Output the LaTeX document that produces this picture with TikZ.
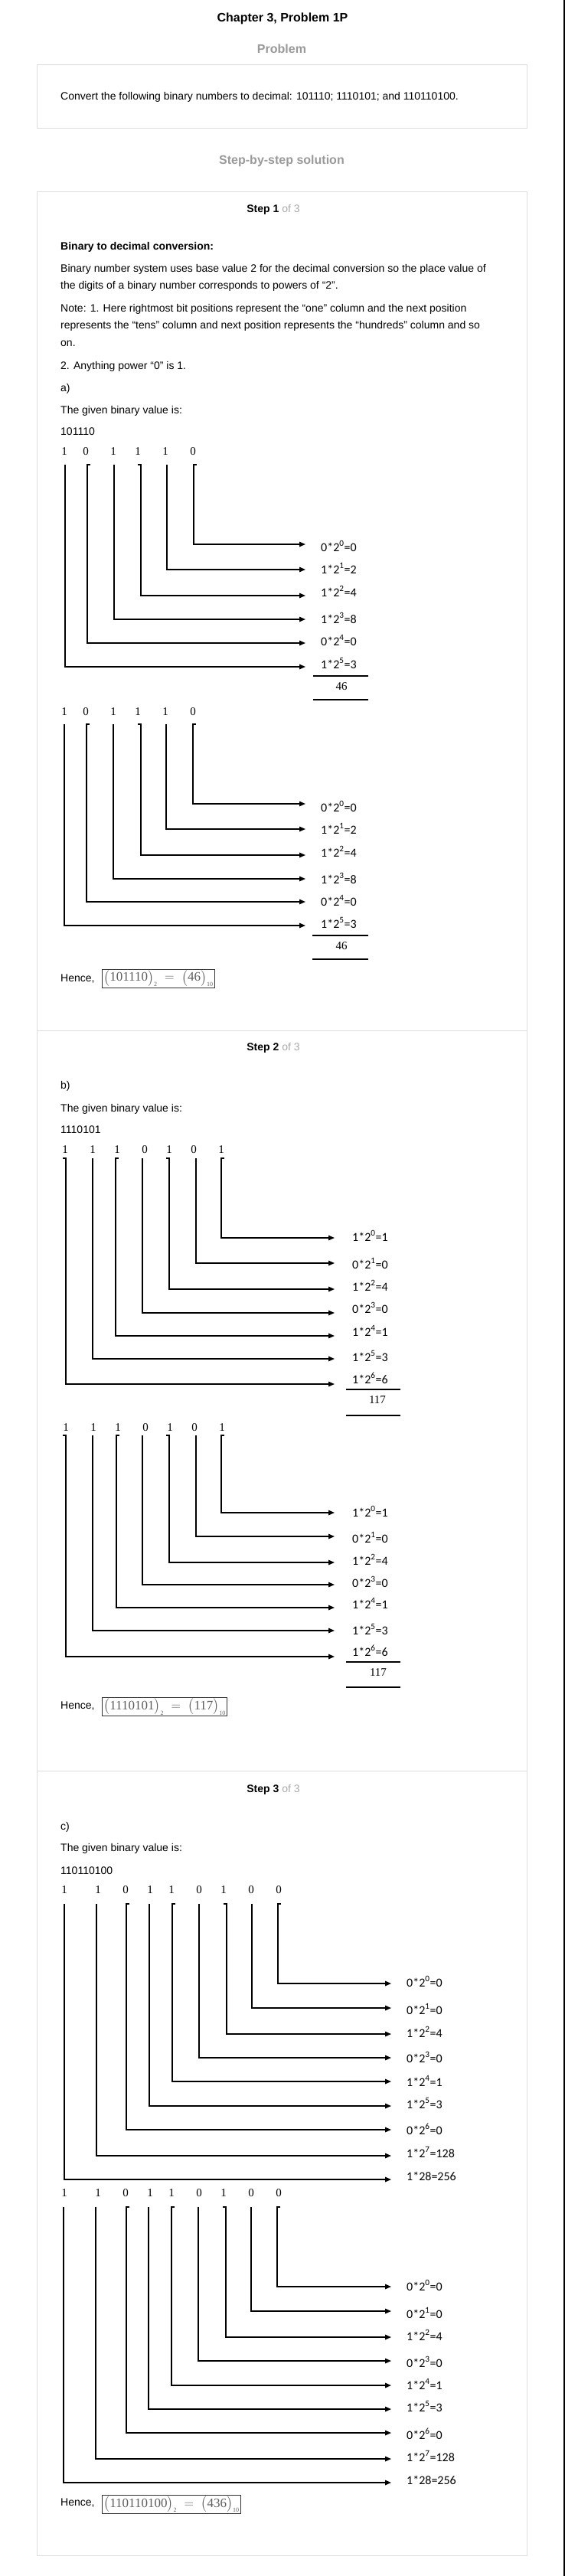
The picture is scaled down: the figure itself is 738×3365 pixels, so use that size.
\documentclass[tikz,border=0pt]{standalone}
\usepackage{fontspec}
\usepackage{amsmath}
\setmainfont{Liberation Sans}
\newfontfamily\calibrifont{Carlito}
\newfontfamily\timesfont{Liberation Serif}
\usetikzlibrary{arrows.meta}

\definecolor{framegray}{HTML}{DDDDDD}
\definecolor{titlegray}{HTML}{9A9A9A}
\definecolor{stepgray}{HTML}{AAAAAA}
\definecolor{answergray}{HTML}{5E5E5E}

\tikzset{
  heading/.style={anchor=base,inner sep=0pt,font=\bfseries\fontsize{16}{19}\selectfont},
  bodyline/.style={anchor=base west,inner sep=0pt,font=\fontsize{14}{17}\selectfont},
  stephead/.style={anchor=base,inner sep=0pt,font=\fontsize{14}{17}\selectfont},
  bitdigit/.style={anchor=base,inner sep=0pt,font=\timesfont\fontsize{15}{18}\selectfont},
  powerterm/.style={anchor=base west,inner sep=0pt,font=\calibrifont\fontsize{16}{19}\selectfont},
  bitwire/.style={line width=1.4pt,-{Triangle[length=8pt,width=6.5pt]}},
  sumrule/.style={line width=1.4pt},
  answerbox/.style={draw=black!80,line width=0.9pt,inner xsep=2pt,inner ysep=0pt,minimum height=24pt,
    text=answergray,font=\timesfont\fontsize{17}{20}\selectfont},
  frame/.style={draw=framegray,line width=1pt}
}

\begin{document}
\begin{tikzpicture}[x=1pt,y=-1pt]
\useasboundingbox (0,0) rectangle (738,3365);
\fill[white] (0,0) rectangle (738,3365);
\draw[line width=2pt] (737,0) -- (737,3365);

\node[heading] (chapter) at (369,28) {Chapter 3, Problem 1P};
\node[heading,text=titlegray] (problem) at (368,69) {Problem};
\draw[frame] (48,84) rectangle (688,167);
\node[bodyline] (question) at (79,130) {Convert the following binary numbers to decimal: 101110; 1110101; and 110110100.};
\node[heading,text=titlegray] (solution) at (368,214) {Step-by-step solution};

\draw[frame] (48,250) rectangle (688,3338);
\draw[frame] (48,1346) -- (688,1346);
\draw[frame] (48,2313) -- (688,2313);

\node[stephead] (step1) at (357,277) {\textbf{Step 1} \textcolor{stepgray}{of 3}};
\node[bodyline,font=\bfseries\fontsize{14}{17}\selectfont] (conv) at (79,326) {Binary to decimal conversion:};
\node[bodyline] (body1) at (79,355) {Binary number system uses base value 2 for the decimal conversion so the place value of};
\node[bodyline] (body2) at (79,377) {the digits of a binary number corresponds to powers of “2”.};
\node[bodyline] (note1) at (79,407) {Note: 1. Here rightmost bit positions represent the “one” column and the next position};
\node[bodyline] (note2) at (79,429) {represents the “tens” column and next position represents the “hundreds” column and so};
\node[bodyline] (note3) at (79,452) {on.};
\node[bodyline] (note4) at (79,482) {2. Anything power “0” is 1.};
\node[bodyline] (parta) at (79,511) {a)};
\node[bodyline] (givena) at (79,540) {The given binary value is:};
\node[bodyline] (valuea) at (79,568) {101110};

\foreach \d/\x [count=\i] in {1/84,0/112,1/148,1/180,1/216,0/252}
  \node[bitdigit] (a\i) at (\x,594) {\d};
\foreach \x/\y/\t [count=\i] in {85/871/0,114/840/4,149/809/0,184/778/-4,218/744/0,253/711/4}{
  \coordinate (as\i) at (\x,607);
  \coordinate (ae\i) at (399,\y);
  \draw[bitwire] ([xshift=\t pt]as\i) -- (as\i) |- (ae\i);
}
\foreach \p/\y [count=\i] in {0*2\textsuperscript{0}=0/720,1*2\textsuperscript{1}=2/749,1*2\textsuperscript{2}=4/779,
    1*2\textsuperscript{3}=8/814,0*2\textsuperscript{4}=0/843,1*2\textsuperscript{5}=3/873}
  \node[powerterm] (ap\i) at (419,\y) {\p};
\draw[sumrule] (409,883) -- (481,883);
\node[bitdigit] (atotal) at (446,901) {46};
\draw[sumrule] (409,914) -- (481,914);

\foreach \d/\x [count=\i] in {1/84,0/112,1/148,1/180,1/216,0/252}
  \node[bitdigit] (b\i) at (\x,934) {\d};
\foreach \x/\y/\t [count=\i] in {84/1209/0,113/1178/4,148/1148/0,184/1117/-4,217/1083/0,252/1050/4}{
  \coordinate (bs\i) at (\x,946);
  \coordinate (be\i) at (399,\y);
  \draw[bitwire] ([xshift=\t pt]bs\i) -- (bs\i) |- (be\i);
}
\foreach \p/\y [count=\i] in {0*2\textsuperscript{0}=0/1060,1*2\textsuperscript{1}=2/1089,1*2\textsuperscript{2}=4/1119,
    1*2\textsuperscript{3}=8/1154,0*2\textsuperscript{4}=0/1183,1*2\textsuperscript{5}=3/1212}
  \node[powerterm] (bp\i) at (419,\y) {\p};
\draw[sumrule] (408,1222) -- (481,1222);
\node[bitdigit] (btotal) at (446,1240) {46};
\draw[sumrule] (408,1253) -- (481,1253);

\node[bodyline] (hencea) at (79,1282) {Hence,};
\node[answerbox,anchor=west] (answera) at (133,1278)
  {$\bigl(\mbox{101110}\bigr)_{\mbox{\fontsize{8}{9}\selectfont 2}}\;=\;\bigl(\mbox{46}\bigr)_{\mbox{\fontsize{8}{9}\selectfont 10}}$};

\node[stephead] (step2) at (357,1372) {\textbf{Step 2} \textcolor{stepgray}{of 3}};
\node[bodyline] (partb) at (79,1422) {b)};
\node[bodyline] (givenb) at (79,1452) {The given binary value is:};
\node[bodyline] (valueb) at (79,1480) {1110101};

\foreach \d/\x [count=\i] in {1/85,1/121,1/153,0/189,1/221,0/253,1/289}
  \node[bitdigit] (c\i) at (\x,1506) {\d};
\foreach \x/\y/\t [count=\i] in {86/1808/-4,121/1775/0,151/1745/4,186/1715/0,221/1684/-4,256/1650/0,289/1617/4}{
  \coordinate (cs\i) at (\x,1513);
  \coordinate (ce\i) at (437,\y);
  \draw[bitwire] ([xshift=\t pt]cs\i) -- (cs\i) |- (ce\i);
}
\foreach \p/\y [count=\i] in {1*2\textsuperscript{0}=1/1621,0*2\textsuperscript{1}=0/1657,1*2\textsuperscript{2}=4/1686,
    0*2\textsuperscript{3}=0/1715,1*2\textsuperscript{4}=1/1745,1*2\textsuperscript{5}=3/1778,1*2\textsuperscript{6}=6/1807}
  \node[powerterm] (cp\i) at (460,\y) {\p};
\draw[sumrule] (452,1815) -- (523,1815);
\node[bitdigit] (ctotal) at (493,1833) {117};
\draw[sumrule] (452,1849) -- (523,1849);

\foreach \d/\x [count=\i] in {1/86,1/122,1/154,0/190,1/222,0/254,1/290}
  \node[bitdigit] (d\i) at (\x,1869) {\d};
\foreach \x/\y/\t [count=\i] in {86/2164/-4,121/2130/0,152/2100/4,186/2070/0,221/2041/-4,256/2007/0,289/1976/4}{
  \coordinate (ds\i) at (\x,1875);
  \coordinate (de\i) at (437,\y);
  \draw[bitwire] ([xshift=\t pt]ds\i) -- (ds\i) |- (de\i);
}
\foreach \p/\y [count=\i] in {1*2\textsuperscript{0}=1/1981,0*2\textsuperscript{1}=0/2015,1*2\textsuperscript{2}=4/2044,
    0*2\textsuperscript{3}=0/2073,1*2\textsuperscript{4}=1/2101,1*2\textsuperscript{5}=3/2135,1*2\textsuperscript{6}=6/2163}
  \node[powerterm] (dp\i) at (460,\y) {\p};
\draw[sumrule] (452,2171) -- (523,2171);
\node[bitdigit] (dtotal) at (494,2189) {117};
\draw[sumrule] (452,2204) -- (523,2204);

\node[bodyline] (henceb) at (79,2232) {Hence,};
\node[answerbox,anchor=west] (answerb) at (133,2229.5)
  {$\bigl(\mbox{1110101}\bigr)_{\mbox{\fontsize{8}{9}\selectfont 2}}\;=\;\bigl(\mbox{117}\bigr)_{\mbox{\fontsize{8}{9}\selectfont 10}}$};

\node[stephead] (step3) at (357,2341) {\textbf{Step 3} \textcolor{stepgray}{of 3}};
\node[bodyline] (partc) at (79,2390) {c)};
\node[bodyline] (givenc) at (79,2418) {The given binary value is:};
\node[bodyline] (valuec) at (79,2448) {110110100};

\foreach \d/\x [count=\i] in {1/84,1/128,0/164,1/196,1/224,0/260,1/292,0/328,0/364}
  \node[bitdigit] (e\i) at (\x,2473) {\d};
\foreach \x/\y/\t [count=\i] in {84/2847/0,126/2816/0,165/2782/4,195/2751/0,225/2719/4,260/2688/0,296/2657/-4,329/2623/0,363/2591/4}{
  \coordinate (es\i) at (\x,2487);
  \coordinate (ee\i) at (511,\y);
  \draw[bitwire] ([xshift=\t pt]es\i) -- (es\i) |- (ee\i);
}
\foreach \p/\y [count=\i] in {0*2\textsuperscript{0}=0/2595,0*2\textsuperscript{1}=0/2631,1*2\textsuperscript{2}=4/2661,
    0*2\textsuperscript{3}=0/2694,1*2\textsuperscript{4}=1/2725,1*2\textsuperscript{5}=3/2754,0*2\textsuperscript{6}=0/2788,
    1*2\textsuperscript{7}=128/2818,1*28=256/2848}
  \node[powerterm] (ep\i) at (531,\y) {\p};

\foreach \d/\x [count=\i] in {1/84,1/128,0/164,1/196,1/224,0/260,1/292,0/328,0/364}
  \node[bitdigit] (f\i) at (\x,2869) {\d};
\foreach \x/\y/\t [count=\i] in {83/3243/0,125/3212/0,165/3178/4,194/3147/0,224/3116/4,259/3084/0,295/3053/-4,328/3019/0,362/2987/4}{
  \coordinate (fs\i) at (\x,2883);
  \coordinate (fe\i) at (511,\y);
  \draw[bitwire] ([xshift=\t pt]fs\i) -- (fs\i) |- (fe\i);
}
\foreach \p/\y [count=\i] in {0*2\textsuperscript{0}=0/2992,0*2\textsuperscript{1}=0/3028,1*2\textsuperscript{2}=4/3057,
    0*2\textsuperscript{3}=0/3092,1*2\textsuperscript{4}=1/3121,1*2\textsuperscript{5}=3/3150,0*2\textsuperscript{6}=0/3186,
    1*2\textsuperscript{7}=128/3215,1*28=256/3245}
  \node[powerterm] (fp\i) at (531,\y) {\p};

\node[bodyline] (hencec) at (79,3273) {Hence,};
\node[answerbox,anchor=west] (answerc) at (133,3271)
  {$\bigl(\mbox{110110100}\bigr)_{\mbox{\fontsize{8}{9}\selectfont 2}}\;=\;\bigl(\mbox{436}\bigr)_{\mbox{\fontsize{8}{9}\selectfont 10}}$};
\end{tikzpicture}
\end{document}
